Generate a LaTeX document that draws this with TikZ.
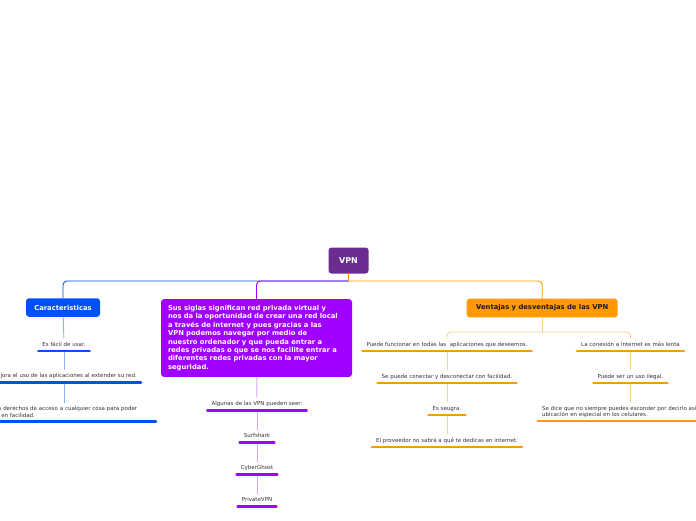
\documentclass[tikz,border=0pt]{standalone}
\usepackage{fontspec}
\setmainfont{DejaVu Sans}
\usetikzlibrary{calc}
\definecolor{rootc}{HTML}{6A2C91}
\definecolor{blu}{HTML}{0050F5}
\definecolor{blulite}{HTML}{8FB0FF}
\definecolor{vio}{HTML}{A000FF}
\definecolor{violite}{HTML}{D9A3FF}
\definecolor{ora}{HTML}{FF9900}
\definecolor{oralite}{HTML}{FFCF8A}
\definecolor{txt}{HTML}{333333}
\definecolor{ink}{HTML}{1A1A1A}

\begin{document}
\begin{tikzpicture}[x=1pt, y=-1pt,
  every node/.style={font=\fontsize{5.5}{6.6}\selectfont, text=txt},
  topic/.style={rectangle, rounded corners=3pt, font=\fontsize{6.8}{8.4}\selectfont\bfseries, text=white, inner sep=0pt},
  item/.style={inner xsep=4pt, inner ysep=3.5pt, text height=4pt, text depth=1.2pt, anchor=south},
  pair/.style={inner xsep=4pt, inner ysep=3pt, align=left, anchor=south},
  link/.style={line width=0.9pt, rounded corners=4pt},
  bar/.style={line width=2.6pt, line cap=round}
]
\useasboundingbox (0,0) rectangle (696,520);

% main topics
\node[topic, fill=rootc, minimum width=40pt, minimum height=26pt, font=\fontsize{8}{9}\selectfont\bfseries] (vpn) at (348.5,260.5) {VPN};
\node[topic, fill=blu, minimum width=74pt, minimum height=18.5pt] (car) at (63,307.5) {Caracteristicas};
\node[topic, fill=vio, text width=177pt, align=left, inner xsep=7pt, minimum height=77.7pt] (sig) at (256.5,338)
  {Sus siglas significan red privada virtual y\\
   nos da la oportunidad de crear una red local\\
   a través de internet y pues gracias a las\\
   VPN podemos navegar por medio de\\
   nuestro ordenador y que pueda entrar a\\
   redes privadas o que se nos facilite entrar a\\
   diferentes redes privadas con la mayor\\
   seguridad.};
\node[topic, fill=ora, text=ink, minimum width=151pt, minimum height=18.6pt] (ven) at (542.2,308) {Ventajas y desventajas de las VPN};

% caracteristicas
\node[item] (c1) at (64,351) {Es fácil de usar.};
\node[item, anchor=south east] (c2) at (141,382.7) {Mejora el uso de las aplicaciones al extender su red.};
\node[pair, anchor=south east, text width=175pt] (c3) at (156,421.5) {Obtienes derechos de acceso a cualquier cosa para poder\\navegar en facilidad.};

% algunas VPN
\node[item] (p1) at (257,410.3) {Algunas de las VPN pueden seer:};
\node[item] (p2) at (257,442.3) {Surfshark};
\node[item] (p3) at (257,474.3) {CyberGhost};
\node[item] (p4) at (257,506.3) {PrivateVPN};

% ventajas
\node[item] (o1) at (447,351) {Puede funcionar en todas las \ aplicaciones que deseemos.};
\node[item] (o2) at (447,383) {Se puede conectar y desconectar con facilidad.};
\node[item] (o3) at (447,415) {Es seugra.};
\node[item] (o4) at (447,447) {El proveedor no sabrá a qué te dedicas en internet.};

% desventajas
\node[item] (r1) at (630.5,351) {La conexión a internet es más lenta};
\node[item] (r2) at (630.5,383) {Puede ser un uso ilegal.};
\node[pair, anchor=south west] (r3) at (538,421) {Se dice que no siempre puedes esconder por decirlo así tu\\ubicación en especial en los celulares.};

% branches
\coordinate (hub) at (348.5,281);
\coordinate (vhub) at (542.2,332);
\draw[link, blu] (hub) -| (car);
\draw[link, vio] (hub) -| (sig);
\draw[link, ora] (hub) -| (ven);
\draw[link, ora] (vpn) -- (hub);

\draw[link, blulite] (car) -- (c1);
\draw[link, blulite] (c1) -- (c1 |- c2.north);
\draw[link, blulite] (c1 |- c2.south) -- (c1 |- c3.north);

\draw[link, violite] (sig) -- (p1);
\foreach \a/\b in {p1/p2, p2/p3, p3/p4}
  \draw[link, violite] (\a) -- (\b);

\draw[link, oralite] (ven) -- (vhub);
\draw[link, oralite] (vhub) -| (o1);
\draw[link, oralite] (vhub) -| (r1);
\foreach \a/\b in {o1/o2, o2/o3, o3/o4, r1/r2}
  \draw[link, oralite] (\a) -- (\b);
\draw[link, oralite] (r2) -- (r2 |- r3.north);

% underlines
\foreach \n/\c in {c1/blu, c2/blu, c3/blu, p1/vio, p2/vio, p3/vio, p4/vio,
                   o1/ora, o2/ora, o3/ora, o4/ora, r1/ora, r2/ora, r3/ora}
  \draw[bar, \c] (\n.south west) -- (\n.south east);
\end{tikzpicture}
\end{document}
